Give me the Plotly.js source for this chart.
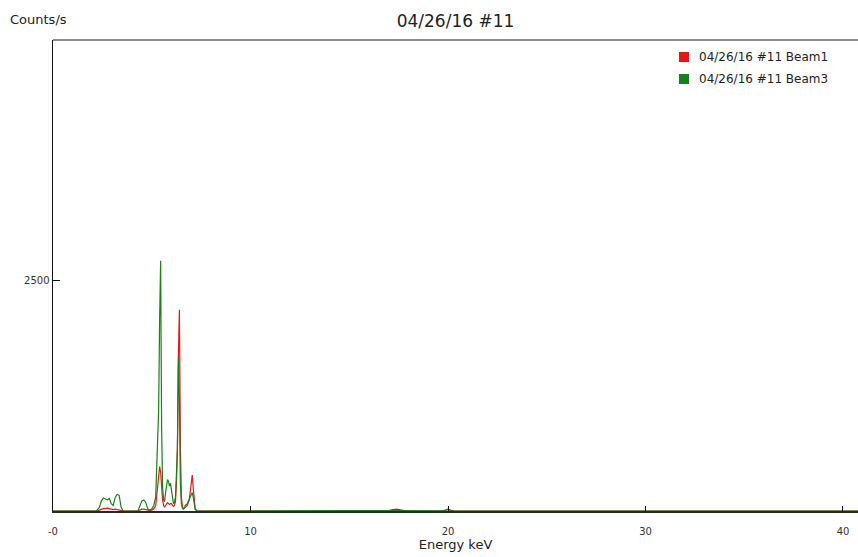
<!DOCTYPE html>
<html>
<head>
<meta charset="utf-8">
<script src="https://cdn.plot.ly/plotly-3.0.1.min.js"></script>
<style>
  html, body { margin: 0; padding: 0; background: #fff; }
  #chart { width: 858px; height: 557px; }
</style>
</head>
<body>
<div id="chart"></div>
<script>
// Energy channels (keV) shared by both spectra
const energy = [
  0, 2.2, 2.35, 2.45, 2.55, 2.65, 2.75, 2.85, 2.95, 3.05,
  3.15, 3.25, 3.35, 3.45, 3.55, 4.3, 4.4, 4.5, 4.6, 4.7,
  4.8, 4.9, 5.0, 5.1, 5.2, 5.25, 5.3, 5.35, 5.4, 5.45,
  5.5, 5.55, 5.6, 5.65, 5.7, 5.75, 5.8, 5.85, 5.9, 5.95,
  6.0, 6.05, 6.1, 6.15, 6.2, 6.25, 6.3, 6.35, 6.4, 6.45,
  6.5, 6.55, 6.6, 6.65, 6.7, 6.8, 6.9, 6.95, 7.0, 7.05,
  7.1, 7.15, 7.2, 7.3, 7.5, 16.9, 17.2, 17.4, 17.6, 17.9,
  19.7, 19.9, 20.0, 20.1, 20.3, 40.8
];

// Beam 1 count rate (counts/s)
const beam1 = [
  0, 0, 10, 20, 25, 25, 30, 25, 20, 15,
  20, 15, 10, 5, 0, 0, 10, 20, 20, 15,
  5, 5, 10, 20, 60, 150, 280, 380, 480, 420,
  250, 120, 60, 40, 60, 80, 90, 80, 70, 80,
  80, 60, 50, 60, 100, 300, 700, 1700, 2180, 700,
  150, 50, 30, 30, 40, 60, 120, 200, 300, 390,
  250, 80, 20, 0, 0, 0, 15, 20, 12, 0,
  0, 10, 20, 10, 0, 0
];

// Beam 3 count rate (counts/s)
const beam3 = [
  0, 0, 40, 110, 140, 130, 120, 135, 80, 60,
  150, 180, 170, 40, 0, 0, 50, 110, 120, 90,
  20, 10, 20, 60, 150, 500, 930, 1100, 2090, 2710,
  900, 250, 120, 100, 200, 300, 340, 320, 270, 300,
  220, 100, 80, 90, 150, 400, 660, 1660, 1200, 300,
  80, 30, 20, 30, 60, 80, 130, 170, 190, 200,
  150, 60, 20, 0, 0, 0, 5, 8, 5, 0,
  0, 8, 15, 8, 0, 0
];

const seriesNames = ['04/26/16 #11 Beam1', '04/26/16 #11 Beam3'];
const seriesColors = ['#e01a1a', '#1b7f1b'];
const xTickVals = [0, 10, 20, 30, 40];
const xTickText = ['-0', '10', '20', '30', '40'];
const yTickVals = [2500];

const font = 'DejaVu Sans, Verdana, sans-serif';

const traces = [beam1, beam3].map((vals, i) => ({
  type: 'scatter',
  mode: 'lines',
  x: energy,
  y: vals,
  name: seriesNames[i],
  line: { color: seriesColors[i], width: 1.2 },
  showlegend: false,
  hoverinfo: 'x+y+name'
}));

// Hand-built legend: coloured squares with labels, top right
const legendShapes = seriesColors.map((c, i) => ({
  type: 'rect', xref: 'paper', yref: 'paper',
  x0: (679 - 53) / 805, x1: (689 - 53) / 805,
  y0: (511 - 62 - 22 * i) / 471, y1: (511 - 52 - 22 * i) / 471,
  fillcolor: c, line: { width: 0 }
}));
const legendLabels = seriesNames.map((n, i) => ({
  xref: 'paper', yref: 'paper',
  x: (697 - 53) / 805, y: (511 - 57 - 22 * i) / 471,
  xanchor: 'left', yanchor: 'middle',
  text: n, showarrow: false,
  font: { family: font, size: 12, color: '#222' }
}));

const layout = {
  width: 858, height: 557,
  margin: { l: 53, r: 0, t: 40, b: 46 },
  paper_bgcolor: '#fff', plot_bgcolor: '#fff',
  title: {
    text: '04/26/16 #11',
    font: { family: font, size: 17, color: '#222' },
    xref: 'paper', x: 0.5, xanchor: 'center',
    yref: 'container', y: 0.963, yanchor: 'middle'
  },
  xaxis: {
    range: [0, 40.76],
    showgrid: false, zeroline: false,
    showline: true, linecolor: '#1e2e22', linewidth: 2,
    ticks: 'inside', ticklen: 5, tickcolor: '#111', tickwidth: 1,
    tickvals: xTickVals, ticktext: xTickText,
    tickfont: { family: font, size: 10, color: '#333' },
    ticklabelstandoff: 10,
    title: { text: 'Energy keV', font: { family: font, size: 13, color: '#222' }, standoff: 3 },
    fixedrange: true
  },
  yaxis: {
    range: [0, 5100],
    showgrid: false, zeroline: false,
    showline: true, linecolor: '#111', linewidth: 1.5,
    ticks: 'inside', ticklen: 7, tickcolor: '#111', tickwidth: 1,
    tickvals: yTickVals,
    tickfont: { family: font, size: 10, color: '#333' },
    ticklabelstandoff: 0,
    fixedrange: true
  },
  shapes: [
    { type: 'line', xref: 'paper', yref: 'paper', x0: 0, x1: 1, y0: 1, y1: 1,
      line: { color: '#8a8a8a', width: 2 } }
  ].concat(legendShapes),
  annotations: [
    { xref: 'paper', yref: 'paper', x: -45 / 805, y: (511 - 19) / 471,
      xanchor: 'left', yanchor: 'middle', text: 'Counts/s', showarrow: false,
      font: { family: font, size: 13, color: '#222' } }
  ].concat(legendLabels)
};

Plotly.newPlot('chart', traces, layout, { displayModeBar: false, staticPlot: true });
</script>
</body>
</html>
